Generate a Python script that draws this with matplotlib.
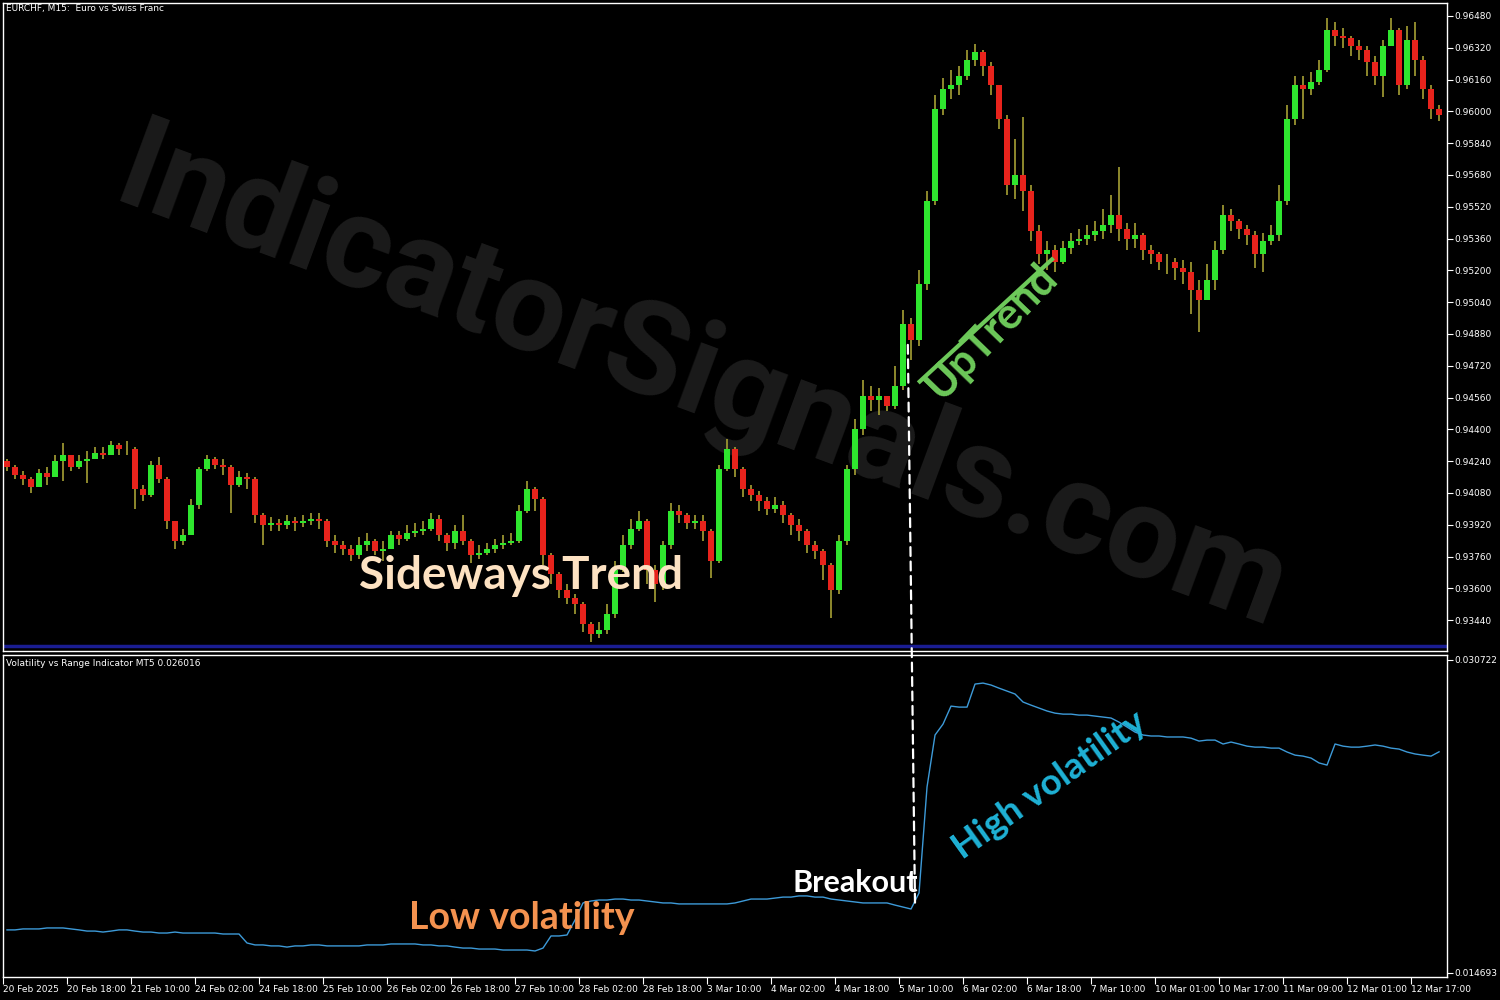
#!/usr/bin/env python3
"""EURCHF M15 candles with Volatility vs Range indicator (MT5 style)."""

import numpy as np
import matplotlib

matplotlib.use("Agg")
import matplotlib.pyplot as plt
from matplotlib.patches import ConnectionPatch

# prices are stored as pips above 0.93000, one candle = 2 hours (8 x M15 bars)
BASE = 0.93
PIP = 0.0001

first_open = 124
closes = [
    121, 117, 115, 111, 118, 116, 124, 127, 121, 124, 125, 128, 127, 132, 130, 130,
    110, 107, 122, 115, 94, 84, 87, 102, 120, 125, 122, 121, 112, 116, 115, 97,
    92, 93, 92, 94, 93, 94, 95, 94, 84, 82, 80, 77, 82, 84, 79, 80,
    87, 85, 88, 89, 90, 95, 87, 83, 89, 84, 77, 78, 80, 82, 83, 84,
    99, 110, 105, 77, 67, 59, 55, 52, 42, 37, 39, 47, 69, 82, 90, 94,
    69, 62, 82, 99, 97, 93, 94, 89, 74, 120, 130, 120, 110, 107, 104, 100,
    102, 97, 92, 89, 82, 79, 72, 59, 84, 120, 140, 157, 155, 157, 152, 162,
    193, 185, 213, 255, 301, 311, 313, 318, 326, 330, 323, 313, 296, 263, 268, 260,
    240, 228, 230, 224, 231, 235, 236, 238, 240, 243, 248, 241, 236, 238, 230, 228,
    224, 224, 221, 219, 210, 205, 215, 230, 248, 245, 241, 238, 228, 235, 238, 255,
    296, 313, 311, 315, 321, 341, 338, 337, 333, 331, 325, 318, 333, 341, 313, 336,
    326, 311, 301, 298,
]
highs = [
    125, 122, 119, 116, 120, 121, 127, 133, 127, 127, 129, 131, 131, 134, 133, 134,
    131, 112, 124, 126, 116, 94, 90, 105, 121, 127, 126, 125, 122, 119, 118, 116,
    98, 96, 95, 97, 96, 97, 98, 98, 95, 87, 84, 82, 86, 88, 85, 84,
    89, 89, 92, 93, 94, 98, 97, 88, 92, 97, 85, 82, 83, 85, 87, 88,
    102, 114, 111, 106, 78, 68, 62, 57, 53, 43, 43, 52, 74, 87, 95, 99,
    95, 72, 84, 103, 102, 98, 97, 97, 90, 122, 135, 131, 121, 112, 109, 106,
    106, 104, 98, 95, 90, 84, 80, 73, 87, 122, 145, 165, 162, 161, 157, 172,
    200, 196, 220, 260, 308, 317, 321, 323, 331, 334, 331, 325, 313, 298, 286, 297,
    263, 243, 235, 233, 235, 239, 241, 243, 245, 251, 258, 272, 244, 244, 239, 233,
    229, 228, 226, 225, 224, 215, 223, 235, 253, 251, 246, 243, 240, 239, 243, 263,
    303, 318, 318, 320, 326, 347, 345, 342, 338, 336, 333, 328, 336, 347, 342, 343,
    345, 328, 313, 303,
]
lows = [
    119, 115, 112, 108, 112, 112, 119, 114, 119, 120, 113, 125, 125, 129, 127, 127,
    100, 104, 106, 113, 90, 80, 82, 87, 100, 119, 120, 117, 98, 111, 110, 93,
    82, 89, 89, 90, 89, 91, 92, 90, 81, 78, 77, 74, 75, 79, 77, 74,
    80, 82, 84, 86, 87, 89, 84, 79, 80, 82, 73, 75, 77, 78, 80, 82,
    83, 98, 99, 72, 62, 55, 52, 47, 38, 33, 35, 37, 45, 68, 80, 89,
    62, 53, 59, 80, 93, 90, 90, 84, 65, 73, 119, 116, 106, 104, 99, 97,
    98, 93, 87, 84, 78, 75, 64, 45, 57, 82, 117, 137, 149, 147, 149, 150,
    160, 175, 182, 210, 253, 298, 306, 308, 316, 323, 318, 308, 291, 258, 256, 250,
    235, 223, 220, 219, 223, 228, 233, 233, 235, 236, 239, 235, 230, 231, 225, 223,
    220, 218, 215, 213, 198, 189, 205, 210, 228, 240, 236, 233, 221, 219, 233, 235,
    253, 293, 296, 308, 313, 320, 333, 332, 328, 326, 318, 313, 307, 333, 308, 311,
    318, 306, 296, 295,
]

# Volatility vs Range indicator, one value per candle
vol = [
    0.01690, 0.01690, 0.01695, 0.01695, 0.01695, 0.01700, 0.01700, 0.01700,
    0.01695, 0.01690, 0.01684, 0.01684, 0.01679, 0.01684, 0.01690, 0.01690,
    0.01684, 0.01679, 0.01679, 0.01674, 0.01674, 0.01679, 0.01674, 0.01674,
    0.01674, 0.01674, 0.01674, 0.01669, 0.01669, 0.01669, 0.01623, 0.01613,
    0.01613, 0.01608, 0.01608, 0.01602, 0.01608, 0.01608, 0.01613, 0.01613,
    0.01608, 0.01608, 0.01608, 0.01608, 0.01608, 0.01613, 0.01613, 0.01613,
    0.01618, 0.01618, 0.01618, 0.01618, 0.01613, 0.01613, 0.01608, 0.01608,
    0.01602, 0.01597, 0.01597, 0.01592, 0.01592, 0.01592, 0.01587, 0.01587,
    0.01587, 0.01587, 0.01582, 0.01597, 0.01659, 0.01659, 0.01664, 0.01741,
    0.01828, 0.01838, 0.01843, 0.01843, 0.01848, 0.01848, 0.01843, 0.01843,
    0.01838, 0.01833, 0.01828, 0.01828, 0.01823, 0.01823, 0.01823, 0.01823,
    0.01823, 0.01823, 0.01823, 0.01828, 0.01838, 0.01848, 0.01848, 0.01848,
    0.01853, 0.01858, 0.01858, 0.01864, 0.01864, 0.01858, 0.01858, 0.01848,
    0.01843, 0.01838, 0.01833, 0.01828, 0.01828, 0.01828, 0.01828, 0.01817,
    0.01807, 0.01797, 0.01879, 0.02422, 0.02688, 0.02744, 0.02836, 0.02831,
    0.02831, 0.02949, 0.02954, 0.02944, 0.02928, 0.02913, 0.02898, 0.02857,
    0.02841, 0.02826, 0.02811, 0.02800, 0.02795, 0.02795, 0.02790, 0.02790,
    0.02785, 0.02780, 0.02775, 0.02754, 0.02729, 0.02703, 0.02688, 0.02683,
    0.02683, 0.02678, 0.02678, 0.02678, 0.02672, 0.02657, 0.02662, 0.02662,
    0.02642, 0.02652, 0.02642, 0.02631, 0.02626, 0.02626, 0.02621, 0.02621,
    0.02601, 0.02585, 0.02580, 0.02570, 0.02545, 0.02534, 0.02642, 0.02631,
    0.02626, 0.02626, 0.02631, 0.02637, 0.02631, 0.02621, 0.02616, 0.02601,
    0.02591, 0.02585, 0.02580, 0.02602,
]

time_labels = [
    "20 Feb 2025", "20 Feb 18:00", "21 Feb 10:00", "24 Feb 02:00", "24 Feb 18:00",
    "25 Feb 10:00", "26 Feb 02:00", "26 Feb 18:00", "27 Feb 10:00", "28 Feb 02:00",
    "28 Feb 18:00", "3 Mar 10:00", "4 Mar 02:00", "4 Mar 18:00", "5 Mar 10:00",
    "6 Mar 02:00", "6 Mar 18:00", "7 Mar 10:00", "10 Mar 01:00", "10 Mar 17:00",
    "11 Mar 09:00", "12 Mar 01:00", "12 Mar 17:00",
]
LABEL_EVERY = 8  # candles between time labels

# annotation anchors (candle index, value)
sideways_at = (64.8, 0.93663)
uptrend_at = (123.6, 0.94895)
uptrend_line = ([114.4, 131.3], [0.94634, 0.95262])
breakout_top = (113.1, 0.94825)
breakout_bot = (114.0, 0.01818)
breakout_at = (106.5, 0.01930)
low_vol_at = (64.9, 0.01751)
high_vol_at = (130.8, 0.02432)
bid_line = 0.93311

BG = "black"
FG = "white"
UP = "#2ee62e"
DOWN = "#e8231c"
WICK = "#a6a034"

plt.rcParams["font.family"] = ["DejaVu Sans"]

o = BASE + np.array([first_open] + closes[:-1]) * PIP
c = BASE + np.array(closes) * PIP
h = BASE + np.array(highs) * PIP
l = BASE + np.array(lows) * PIP
h = np.maximum(h, np.maximum(o, c))
l = np.minimum(l, np.minimum(o, c))
x = np.arange(len(closes)) + 0.5
n = len(closes)

fig = plt.figure(figsize=(15, 10), dpi=100, facecolor=BG)
ax1 = fig.add_axes([0.002, 0.349, 0.9627, 0.648], facecolor=BG)
ax2 = fig.add_axes([0.002, 0.023, 0.9627, 0.322], facecolor=BG)

# watermark
ax1.text(0.468, 0.618, "IndicatorSignals.com", transform=fig.transFigure,
         rotation=-20.3, ha="center", va="center", fontsize=93,
         fontweight="bold", family=["Roboto", "DejaVu Sans"],
         color="#1b1b1b", zorder=0.5)

up = c >= o
ax1.vlines(x, l, h, color=WICK, lw=1.2, zorder=2)
body_lo = np.minimum(o, c)
body_h = np.maximum(np.abs(c - o), 0.00003)
ax1.bar(x[up], body_h[up], bottom=body_lo[up], width=0.75, color=UP, lw=0, zorder=3)
ax1.bar(x[~up], body_h[~up], bottom=body_lo[~up], width=0.75, color=DOWN, lw=0, zorder=3)
ax1.axhline(bid_line, color="#1a1d92", lw=2.5, zorder=1)

ax1.set_xlim(0, n + 0.5)
ax1.set_ylim(0.93285, 0.96545)
ax1.yaxis.tick_right()
ax1.set_yticks(np.arange(0.93440, 0.96490, 0.0016))
ax1.yaxis.set_major_formatter(matplotlib.ticker.FormatStrFormatter("%.5f"))
ax1.tick_params(axis="y", colors=FG, labelsize=6.5, length=4, pad=1, width=0.8)
ax1.tick_params(axis="x", length=0, labelbottom=False)

ax2.plot(x, vol, color="#3d9ad8", lw=1, zorder=3)
ax2.set_xlim(0, n + 0.5)
ax2.set_ylim(0.014488, 0.030978)
ax2.yaxis.tick_right()
ax2.set_yticks([0.014693, 0.030722])
ax2.yaxis.set_major_formatter(matplotlib.ticker.FormatStrFormatter("%.6f"))
ax2.tick_params(axis="y", colors=FG, labelsize=6.5, length=4, pad=1, width=0.8)
ax2.set_xticks(np.arange(len(time_labels)) * LABEL_EVERY)
ax2.set_xticklabels(time_labels, ha="left")
ax2.tick_params(axis="x", colors=FG, labelsize=6.5, length=5, pad=1, width=0.8)

for ax in (ax1, ax2):
    for sp in ax.spines.values():
        sp.set_color(FG)
        sp.set_linewidth(1)

fig.text(0.004, 0.991, "EURCHF, M15:  Euro vs Swiss Franc", color=FG,
         fontsize=6.5, va="center")
fig.text(0.004, 0.337, "Volatility vs Range Indicator MT5 0.026016", color=FG,
         fontsize=6.5, va="center")

font = dict(fontweight="bold", family=["Lato", "DejaVu Sans"], ha="center",
            va="center", zorder=6)
ax1.text(*sideways_at, "Sideways Trend", color="#fde2c2", fontsize=33, **font)
ax1.text(*uptrend_at, "UpTrend", color="#6dc95a", fontsize=31, rotation=46, **font)
ax1.plot(*uptrend_line, color="#6dc95a", lw=3, zorder=6, solid_capstyle="butt")
ax2.text(*breakout_at, "Breakout", color=FG, fontsize=22, **font)
ax2.text(*low_vol_at, "Low volatility", color="#f4924f", fontsize=27, **font)
ax2.text(*high_vol_at, "High volatility", color="#1fb2d6", fontsize=26.5,
         rotation=35.5, **font)

con = ConnectionPatch(xyA=breakout_top, coordsA=ax1.transData,
                      xyB=breakout_bot, coordsB=ax2.transData,
                      color=FG, lw=1.6, ls=(0, (4, 2.5)), zorder=7)
fig.add_artist(con)

fig.savefig("out.png", dpi=100, facecolor=BG)
plt.close(fig)
